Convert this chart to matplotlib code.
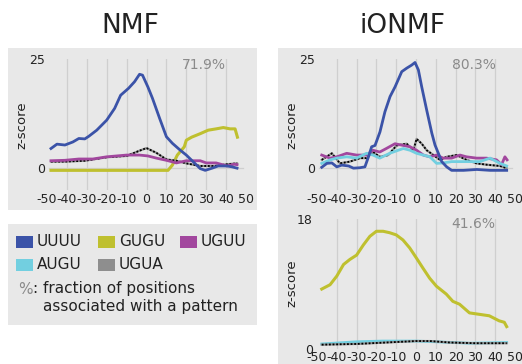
import matplotlib
matplotlib.use("Agg")
import matplotlib.pyplot as plt
from matplotlib.patches import Rectangle

W, H = 522, 364
DPI = 100

# ---- colours ----
C_UUUU = "#3b53a8"
C_GUGU = "#bfc02f"
C_UGUU = "#a2479e"
C_AUGU = "#72cfe0"
C_UGUA = "#8e8e8e"
BG = "#e8e8e8"
GRID = "#cfcfcf"
TXT = "#222222"

# ---- axis ticks ----
x_ticks = [-50, -40, -30, -20, -10, 0, 10, 20, 30, 40, 50]
x_tick_labels = ["-50", "-40", "-30", "-20", "-10", "0", "10", "20", "30", "40", "50"]

# ---- NMF panel ----
nmf_uuuu_x = [-48, -45, -41, -37, -34, -31, -29, -25, -20, -16, -13, -9, -6, -3.5, -2, 0.7, 3, 6.6, 10, 13, 17, 20, 23.5, 27, 29.5, 33, 36, 40.5, 43, 45.5]
nmf_uuuu_y = [4.5, 5.5, 5.3, 6.0, 6.8, 6.7, 7.3, 8.7, 11.0, 13.7, 16.7, 18.3, 19.8, 21.5, 21.3, 18.6, 16.0, 11.4, 7.2, 5.7, 4.1, 3.0, 1.45, -0.1, -0.5, 0.0, 0.5, 0.5, 0.3, 0.0]
nmf_gugu_x = [-48, 10.8, 13, 15.5, 19, 20, 22.7, 27, 31, 35, 38.6, 42, 44.5, 45.7]
nmf_gugu_y = [-0.5, -0.5, 0.7, 3.0, 4.9, 6.4, 7.1, 7.9, 8.7, 9.0, 9.3, 9.0, 9.0, 7.1]
nmf_uguu_x = [-48, -41, -34, -27, -20, -10, -3.5, 0.7, 5, 10, 15, 20, 27, 30, 35, 40.5, 44, 45.5]
nmf_uguu_y = [1.7, 1.8, 2.1, 2.1, 2.6, 3.0, 3.0, 2.8, 2.3, 1.8, 1.2, 1.7, 1.7, 1.2, 1.2, 0.5, 0.9, 0.8]
nmf_ugua_x = [-48, -41, -31, -20, -10, -3.5, 0, 5, 10, 15, 20, 27, 34, 40.5, 45.5]
nmf_ugua_y = [1.5, 1.5, 1.7, 2.5, 2.8, 4.0, 4.6, 3.5, 2.0, 1.7, 1.1, 0.5, 0.5, 0.9, 1.1]
nmf_pct = "71.9%"

# ---- iONMF panel (top) ----
io_uuuu_x = [-47.6, -45, -42.5, -40, -37.5, -34, -31.6, -28.3, -25.8, -24, -22.4, -20.7, -18.2, -15.7, -13.1, -10.6, -7.2, -4.7, -2.2, -0.5, 1.2, 2.9, 5.4, 8, 9.6, 11.3, 13, 15.5, 18, 24, 30.7, 37.4, 45.8]
io_uuuu_y = [0.2, 1.1, 1.2, 0.3, 0.7, 0.5, 0.0, 0.1, 0.3, 2.6, 4.9, 5.2, 8.3, 12.9, 16.4, 18.6, 22.1, 22.9, 23.6, 24.2, 22.5, 18.6, 13.3, 8.0, 5.3, 3.4, 1.5, 0.3, -0.5, -0.5, -0.3, -0.5, -0.5]
io_uguu_x = [-47.6, -43.4, -40, -35, -30, -25, -21.7, -18.3, -15, -10.6, -6.4, -3, 0.3, 3.7, 7, 10.4, 13.7, 18, 22.2, 25.5, 30.6, 35.6, 40.7, 43.2, 44.9, 46]
io_uguu_y = [3.0, 2.3, 2.6, 3.4, 3.0, 3.0, 4.1, 3.7, 4.5, 5.6, 5.2, 4.9, 4.1, 3.0, 2.6, 3.0, 2.3, 2.3, 3.0, 2.6, 2.3, 2.3, 1.9, 0.8, 2.6, 1.9]
io_augu_x = [-47.6, -43.4, -40, -35, -30, -25, -21.7, -18.3, -13.3, -9, -6.4, -3, 0.3, 3.7, 7, 10.4, 13.7, 18, 22.2, 27.3, 32.3, 37.4, 42.4, 45.8]
io_augu_y = [1.1, 1.9, 2.3, 2.6, 2.3, 3.4, 3.0, 2.3, 3.4, 4.1, 4.5, 4.1, 3.4, 3.0, 2.6, 1.1, 1.2, 1.5, 1.5, 1.5, 1.5, 2.3, 1.1, 0.5]
io_ugua_x = [-47.6, -42.5, -38.4, -33.4, -28.3, -25, -21.7, -18.3, -14, -9.8, -4.7, -1.3, 0.3, 2.9, 5.4, 8.8, 12.1, 15.5, 20.5, 25.5, 30.6, 35.6, 42.4, 45.8]
io_ugua_y = [1.9, 3.4, 1.1, 1.5, 2.3, 2.3, 3.7, 2.6, 3.0, 5.2, 5.6, 4.1, 6.7, 5.6, 4.1, 3.0, 1.9, 2.6, 3.0, 1.9, 1.1, 0.8, 0.5, 0.0]
io_pct = "80.3%"

# ---- iONMF panel (bottom) ----
io2_gugu_x = [-47.6, -43.4, -40, -36.6, -33.4, -30, -26.6, -23.3, -20, -16.6, -13.3, -10, -6.6, -3.2, 0.2, 3.5, 6.9, 10.3, 15.3, 18.6, 22, 27, 32, 37, 42, 44.6, 45.8]
io2_gugu_y = [8.3, 8.9, 10.1, 11.7, 12.4, 13.0, 14.4, 15.6, 16.3, 16.3, 16.1, 15.8, 15.1, 14.0, 12.6, 11.2, 9.8, 8.7, 7.6, 6.6, 6.2, 5.0, 4.8, 4.6, 3.9, 3.7, 3.1]
io2_augu_x = [-47.6, -30, -17, 0, 10, 27, 45.8]
io2_augu_y = [0.7, 1.0, 1.1, 1.1, 1.0, 0.8, 0.9]
io2_ugua_x = [-47.6, -30, -15, 0, 7, 17, 30, 45.8]
io2_ugua_y = [0.6, 0.7, 0.9, 1.1, 1.1, 0.9, 0.8, 0.8]
io2_pct = "41.6%"

# ---- legend ----
legend_names = ["UUUU", "GUGU", "UGUU", "AUGU", "UGUA"]
legend_colors = [C_UUUU, C_GUGU, C_UGUU, C_AUGU, C_UGUA]

plt.rcParams["font.family"] = ["DejaVu Sans"]
plt.rcParams["axes.unicode_minus"] = False

fig = plt.figure(figsize=(W / DPI, H / DPI), dpi=DPI)
fig.patch.set_facecolor("white")


def fx(px):
    return px / W


def fy(py):
    return 1 - py / H


def panel(x0, y0, x1, y1):
    fig.patches.append(Rectangle((fx(x0), fy(y1)), fx(x1) - fx(x0), fy(y0) - fy(y1),
                                 transform=fig.transFigure, facecolor=BG,
                                 edgecolor="none", zorder=-5))


def make_axes(x0, y0, x1, y1, ylim, ytop_label, hline=True):
    ax = fig.add_axes([fx(x0), fy(y1), fx(x1) - fx(x0), fy(y0) - fy(y1)])
    ax.set_zorder(1)
    ax.set_facecolor("none")
    for s in ax.spines.values():
        s.set_visible(False)
    ax.set_xlim(-50, 50)
    ax.set_ylim(*ylim)
    ax.set_xticks(x_ticks)
    ax.set_xticklabels(x_tick_labels)
    ax.set_yticks([0, ylim[1]])
    ax.set_yticklabels(["0", ytop_label])
    ax.tick_params(length=0, labelsize=9, colors=TXT, pad=2.5)
    ax.tick_params(axis="y", pad=1.5)
    for gx in x_ticks[1:-1]:
        ax.axvline(gx, color=GRID, lw=0.9, zorder=1)
    if hline:
        ax.plot([-49, 48.5], [0, 0], color=GRID, lw=0.9, zorder=1)
    return ax


def ugua(ax, x, y):
    ax.plot(x, y, color=C_UGUA, lw=1.6, zorder=3)
    ax.plot(x, y, color="black", lw=1.3, ls=(0, (1, 1)), zorder=3)


# background panels
panel(8, 48, 257, 210)
panel(278, 48, 522, 364)
panel(8, 224, 257, 325)

# titles
fig.text(fx(130), fy(26), "NMF", ha="center", va="center", fontsize=19, color=TXT)
fig.text(fx(403), fy(26), "iONMF", ha="center", va="center", fontsize=19, color=TXT)

# NMF
ax1 = make_axes(47, 59, 246, 190, (-5, 25), "25")
ax1.plot(nmf_gugu_x, nmf_gugu_y, color=C_GUGU, lw=2.2, zorder=2)
ugua(ax1, nmf_ugua_x, nmf_ugua_y)
ax1.plot(nmf_uguu_x, nmf_uguu_y, color=C_UGUU, lw=2.0, zorder=4)
ax1.plot(nmf_uuuu_x, nmf_uuuu_y, color=C_UUUU, lw=2.0, zorder=5)
fig.text(fx(22), fy(125), "z-score", rotation=90, ha="center", va="center", fontsize=9.5, color=TXT)
fig.text(fx(204), fy(65), nmf_pct, ha="center", va="center", fontsize=10, color="#8a8a8a")

# iONMF top
ax2 = make_axes(317, 59, 515, 190, (-5, 25), "25")
ugua(ax2, io_ugua_x, io_ugua_y)
ax2.plot(io_uguu_x, io_uguu_y, color=C_UGUU, lw=2.0, zorder=4)
ax2.plot(io_augu_x, io_augu_y, color=C_AUGU, lw=2.0, zorder=4)
ax2.plot(io_uuuu_x, io_uuuu_y, color=C_UUUU, lw=2.0, zorder=5)
fig.text(fx(292), fy(125), "z-score", rotation=90, ha="center", va="center", fontsize=9.5, color=TXT)
fig.text(fx(474), fy(65), io_pct, ha="center", va="center", fontsize=10, color="#8a8a8a")

# iONMF bottom
ax3 = make_axes(317, 219, 515, 349, (0, 18), "18", hline=False)
ax3.tick_params(axis="x", pad=1.5)
ax3.tick_params(axis="y", pad=3)
ax3.plot(io2_augu_x, io2_augu_y, color=C_AUGU, lw=2.0, zorder=3)
ugua(ax3, io2_ugua_x, io2_ugua_y)
ax3.plot(io2_gugu_x, io2_gugu_y, color=C_GUGU, lw=2.2, zorder=5)
fig.text(fx(292), fy(283), "z-score", rotation=90, ha="center", va="center", fontsize=9.5, color=TXT)
fig.text(fx(473), fy(224), io2_pct, ha="center", va="center", fontsize=10, color="#8a8a8a")

# legend
sq_x = [16, 98, 180, 16, 98]
sq_y = [241.5, 241.5, 241.5, 264.5, 264.5]
for name, col, sx, sy in zip(legend_names, legend_colors, sq_x, sq_y):
    fig.patches.append(Rectangle((fx(sx), fy(sy + 6)), 17 / W, 12 / H,
                                 transform=fig.transFigure, facecolor=col,
                                 edgecolor="none", zorder=2))
    fig.text(fx(sx + 21), fy(sy), name, ha="left", va="center", fontsize=11, color=TXT)

fig.text(fx(18), fy(289), "%", ha="left", va="center", fontsize=11, color="#8a8a8a")
fig.text(fx(33), fy(289), ": fraction of positions", ha="left", va="center", fontsize=11, color=TXT)
fig.text(fx(43), fy(307), "associated with a pattern", ha="left", va="center", fontsize=11, color=TXT)

fig.savefig("out.png", dpi=DPI, facecolor="white")
